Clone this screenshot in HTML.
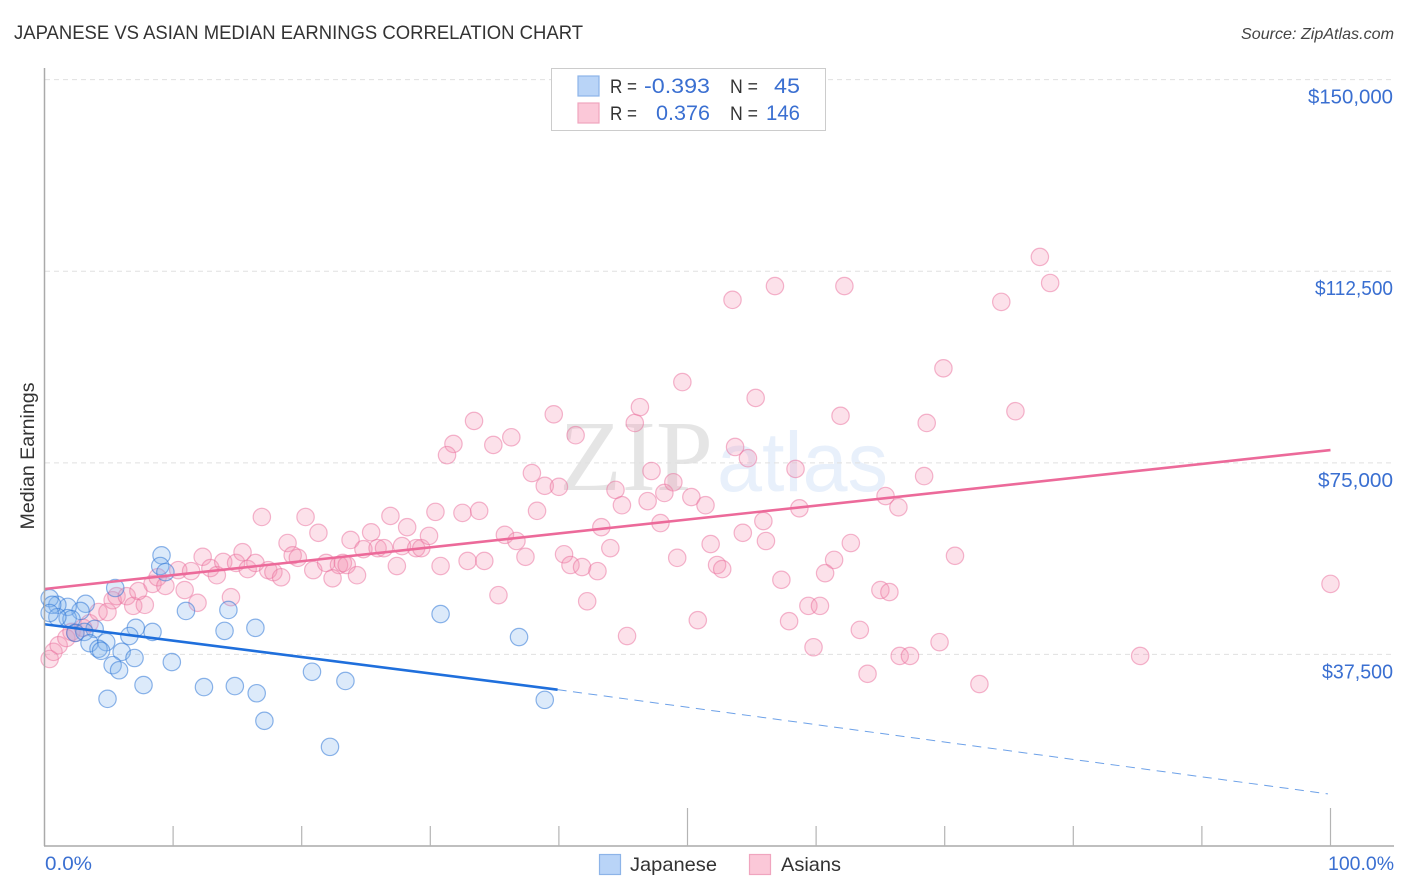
<!DOCTYPE html>
<html>
<head>
<meta charset="utf-8">
<title>Japanese vs Asian Median Earnings Correlation Chart</title>
<style>
html,body{margin:0;padding:0;background:#fff;}
svg{display:block;font-family:"Liberation Sans",sans-serif;}
</style>
</head>
<body>
<svg id="chart" xmlns="http://www.w3.org/2000/svg" width="1406" height="892" viewBox="0 0 1406 892">
  <rect x="0" y="0" width="1406" height="892" fill="#fff"/>
  <text x="14" y="39" font-size="19.5" fill="#333" textLength="569" lengthAdjust="spacingAndGlyphs">JAPANESE VS ASIAN MEDIAN EARNINGS CORRELATION CHART</text>
  <text x="1394" y="39" font-size="16" font-style="italic" fill="#444" text-anchor="end" textLength="153" lengthAdjust="spacingAndGlyphs">Source: ZipAtlas.com</text>
  <g>
    <text x="559" y="490" font-family="'Liberation Serif',serif" font-size="101" fill="#000" fill-opacity="0.1" textLength="154" lengthAdjust="spacingAndGlyphs">ZIP</text>
    <text x="717" y="491" font-size="84" fill="#5b93e6" fill-opacity="0.14" textLength="171" lengthAdjust="spacingAndGlyphs">atlas</text>
  </g>
  <g id="grid"></g>
  <g id="points-asian"></g>
  <g id="points-japanese"></g>
  <g id="trends"></g>
  <g id="axes">
    <line x1="44.5" y1="68" x2="44.5" y2="846" stroke="#aaa" stroke-width="1.5"/>
    <line x1="44" y1="846" x2="1394" y2="846" stroke="#aaa" stroke-width="1.5"/>
  </g>
  <g id="xticks"></g>
  <g id="ylabels"></g>
  <text transform="translate(34,456) rotate(-90)" font-size="19.5" fill="#333" text-anchor="middle" textLength="147" lengthAdjust="spacingAndGlyphs">Median Earnings</text>
  <text x="45" y="870" font-size="19.5" fill="#3a6fd1" textLength="47" lengthAdjust="spacingAndGlyphs">0.0%</text>
  <text x="1394" y="870" font-size="19.5" fill="#3a6fd1" text-anchor="end" textLength="66" lengthAdjust="spacingAndGlyphs">100.0%</text>

  <g>
    <rect x="551.5" y="68.5" width="274" height="62" fill="#fff" stroke="#ccc" stroke-width="1"/>
    <rect x="578" y="76" width="21" height="20" fill="#b9d4f7" stroke="#8db4e8" stroke-width="1.2"/>
    <rect x="578" y="103" width="21" height="20" fill="#fbc8d8" stroke="#f0a5bf" stroke-width="1.2"/>
    <text x="610" y="93" font-size="19" fill="#333" textLength="27" lengthAdjust="spacingAndGlyphs">R =</text>
    <text x="710" y="93" font-size="21" fill="#3a6fd1" text-anchor="end" textLength="66" lengthAdjust="spacingAndGlyphs">-0.393</text>
    <text x="730" y="93" font-size="19" fill="#333" textLength="28" lengthAdjust="spacingAndGlyphs">N =</text>
    <text x="800" y="93" font-size="21" fill="#3a6fd1" text-anchor="end" textLength="26" lengthAdjust="spacingAndGlyphs">45</text>
    <text x="610" y="120" font-size="19" fill="#333" textLength="27" lengthAdjust="spacingAndGlyphs">R =</text>
    <text x="710" y="120" font-size="21" fill="#3a6fd1" text-anchor="end" textLength="54" lengthAdjust="spacingAndGlyphs">0.376</text>
    <text x="730" y="120" font-size="19" fill="#333" textLength="28" lengthAdjust="spacingAndGlyphs">N =</text>
    <text x="800" y="120" font-size="21" fill="#3a6fd1" text-anchor="end" textLength="34" lengthAdjust="spacingAndGlyphs">146</text>
  </g>

  <g>
    <rect x="599.5" y="854.5" width="21" height="20" fill="#b9d4f7" stroke="#8db4e8" stroke-width="1.2"/>
    <text x="630" y="871" font-size="19.5" fill="#333" textLength="87" lengthAdjust="spacingAndGlyphs">Japanese</text>
    <rect x="749.5" y="854.5" width="21" height="20" fill="#fbc8d8" stroke="#f0a5bf" stroke-width="1.2"/>
    <text x="781" y="871" font-size="19.5" fill="#333" textLength="60" lengthAdjust="spacingAndGlyphs">Asians</text>
  </g>
</svg>
<script>
// Share of population (%) on x, median earnings (thousands of dollars) on y
const japaneseX = [9.1,9.0,9.4,5.5,3.2,11.0,14.3,16.4,14.0,8.4,7.1,6.6,3.9,2.8,1.8,1.0,0.4,0.6,1.8,2.1,1.0,0.4,2.4,3.1,3.5,4.8,4.2,4.4,6.0,7.0,5.3,5.8,9.9,7.7,12.4,14.8,16.5,4.9,17.1,20.8,23.4,22.2,30.8,36.9,38.9];
const japaneseY = [56.9,54.8,53.6,50.5,47.4,46.0,46.2,42.7,42.1,41.9,42.7,41.1,42.5,46.0,46.8,47.2,48.5,47.2,44.6,44.4,44.8,45.6,41.7,41.9,39.7,39.9,38.6,38.2,38.0,36.8,35.4,34.4,36.0,31.5,31.1,31.3,29.9,28.8,24.5,34.1,32.3,19.4,45.4,40.9,28.6];
const asianX = [0.4,0.7,1.1,1.7,2.1,2.4,3.0,3.5,4.2,4.9,5.3,5.6,6.4,6.9,7.8,7.3,8.4,8.8,9.4,10.4,11.4,10.9,11.9,12.3,12.9,13.4,13.9,14.5,14.9,15.4,15.8,16.4,17.4,17.8,18.4,18.9,19.3,19.7,20.9,21.3,21.9,22.9,22.4,23.2,16.9,20.3,23.8,23.5,24.3,24.8,25.4,25.9,26.4,26.9,27.4,27.8,28.2,28.9,29.3,29.9,30.4,30.8,32.5,33.8,32.9,34.2,35.3,35.8,36.7,37.4,38.3,37.9,38.9,40.0,40.4,40.9,41.8,42.2,43.0,43.3,44.0,45.3,44.4,44.9,45.9,46.3,47.2,46.9,48.2,48.9,47.9,49.2,50.3,51.4,50.8,51.8,52.3,52.7,53.7,54.3,33.4,31.8,31.3,34.9,36.3,39.6,41.3,49.6,55.3,53.5,56.8,62.2,61.9,68.6,69.9,75.5,74.4,77.4,78.2,58.4,54.7,68.4,65.4,66.4,58.7,55.9,56.1,62.7,70.8,61.4,60.7,57.3,65.0,65.7,59.4,60.3,57.9,63.4,59.8,66.5,67.3,69.6,64.0,72.7,85.2,100.0];
const asianY = [36.6,38.0,39.3,40.7,41.9,41.7,42.7,43.6,45.8,45.8,48.1,48.9,48.9,47.0,47.2,49.9,51.3,52.6,50.9,54.0,53.8,50.1,47.6,56.6,54.4,53.0,55.6,48.7,55.4,57.5,54.2,55.4,54.0,53.6,52.6,59.3,56.9,56.4,54.0,61.3,55.4,55.0,52.4,55.4,64.4,64.4,59.9,55.0,53.0,58.1,61.4,58.3,58.3,64.6,54.8,58.7,62.4,58.3,58.3,60.7,65.4,54.8,65.2,65.6,55.8,55.8,49.1,60.9,59.7,56.6,65.6,73.0,70.5,70.3,57.1,55.0,54.6,47.9,53.8,62.4,58.3,41.1,69.7,66.7,82.8,85.9,73.4,67.5,69.1,71.2,63.2,56.4,68.3,66.7,44.2,59.1,55.0,54.2,78.1,61.3,83.2,78.7,76.5,78.5,80.0,84.5,80.4,90.8,87.7,106.9,109.6,109.6,84.2,82.8,93.5,85.1,106.5,115.3,110.2,73.8,75.9,72.4,68.5,66.3,66.1,63.6,59.7,59.3,56.8,56.0,53.4,52.1,50.1,49.7,47.0,47.0,44.0,42.3,38.9,37.2,37.2,39.9,33.7,31.7,37.2,51.3];
const japaneseTrendX = [0,39.9,99.8];
const japaneseTrendY = [43.4,30.6,10.2];
const asianTrendX = [0,100];
const asianTrendY = [50.3,77.5];
const yTickValues = [37.5,75,112.5,150];
const yTickLabels = ['$37,500','$75,000','$112,500','$150,000'];
const xTickValues = [0,10,20,30,40,50,60,70,80,90,100];

const NS = 'http://www.w3.org/2000/svg';
function xScale(v){ return 44.5 + v * 12.86; }
function yScale(v){ return 846 - v * 5.109; }
function labelWidth(label){
  if (label === '$112,500') return 78;
  if (label === '$75,000') return 75;
  return label.length === 8 ? 85 : 71;
}
function make(tag, parentId, attrs){
  const el = document.createElementNS(NS, tag);
  for (const k in attrs) el.setAttribute(k, attrs[k]);
  document.getElementById(parentId).appendChild(el);
  return el;
}

yTickValues.forEach(function(v, i){
  const g = make('line', 'grid', {x1: 45, x2: 1394, y1: yScale(v), y2: yScale(v), stroke: '#e0e0e0', 'stroke-width': 1, 'stroke-dasharray': '5 4'});
  
  
  const t = make('text', 'ylabels', {x: 1393, y: yScale(v) + 24, 'font-size': 20, fill: '#3a6fd1', 'text-anchor': 'end', textLength: labelWidth(yTickLabels[i]), lengthAdjust: 'spacingAndGlyphs'});
  t.textContent = yTickLabels[i];
  
  
});

xTickValues.forEach(function(v){
  const major = v % 50 === 0;
  if (v === 0) return;
  const tick = make('line', 'xticks', {x1: xScale(v), x2: xScale(v), y1: major ? 808 : 826, y2: 846, stroke: '#b4b4b4', 'stroke-width': 1.2});
  
  
});

asianX.forEach(function(x, i){
  const c = make('circle', 'points-asian', {cx: xScale(x), cy: yScale(asianY[i]), r: 8.7, fill: 'rgba(244,143,177,0.27)', stroke: 'rgba(233,110,155,0.5)', 'stroke-width': 1.2});
  
  
});

japaneseX.forEach(function(x, i){
  const c = make('circle', 'points-japanese', {cx: xScale(x), cy: yScale(japaneseY[i]), r: 8.7, fill: 'rgba(130,178,236,0.28)', stroke: 'rgba(50,120,215,0.55)', 'stroke-width': 1.2});
  
  
});

const jSolid = make('line', 'trends', {x1: xScale(japaneseTrendX[0]), y1: yScale(japaneseTrendY[0]), x2: xScale(japaneseTrendX[1]), y2: yScale(japaneseTrendY[1]), stroke: '#1f6fdc', 'stroke-width': 2.6});


const jDash = make('line', 'trends', {x1: xScale(japaneseTrendX[1]), y1: yScale(japaneseTrendY[1]), x2: xScale(japaneseTrendX[2]), y2: yScale(japaneseTrendY[2]), stroke: '#1f6fdc', 'stroke-width': 1, 'stroke-dasharray': '9 6.5', 'stroke-opacity': 0.65});


const aLine = make('line', 'trends', {x1: xScale(asianTrendX[0]), y1: yScale(asianTrendY[0]), x2: xScale(asianTrendX[1]), y2: yScale(asianTrendY[1]), stroke: '#ec6a9a', 'stroke-width': 2.6});


</script>
</body>
</html>
